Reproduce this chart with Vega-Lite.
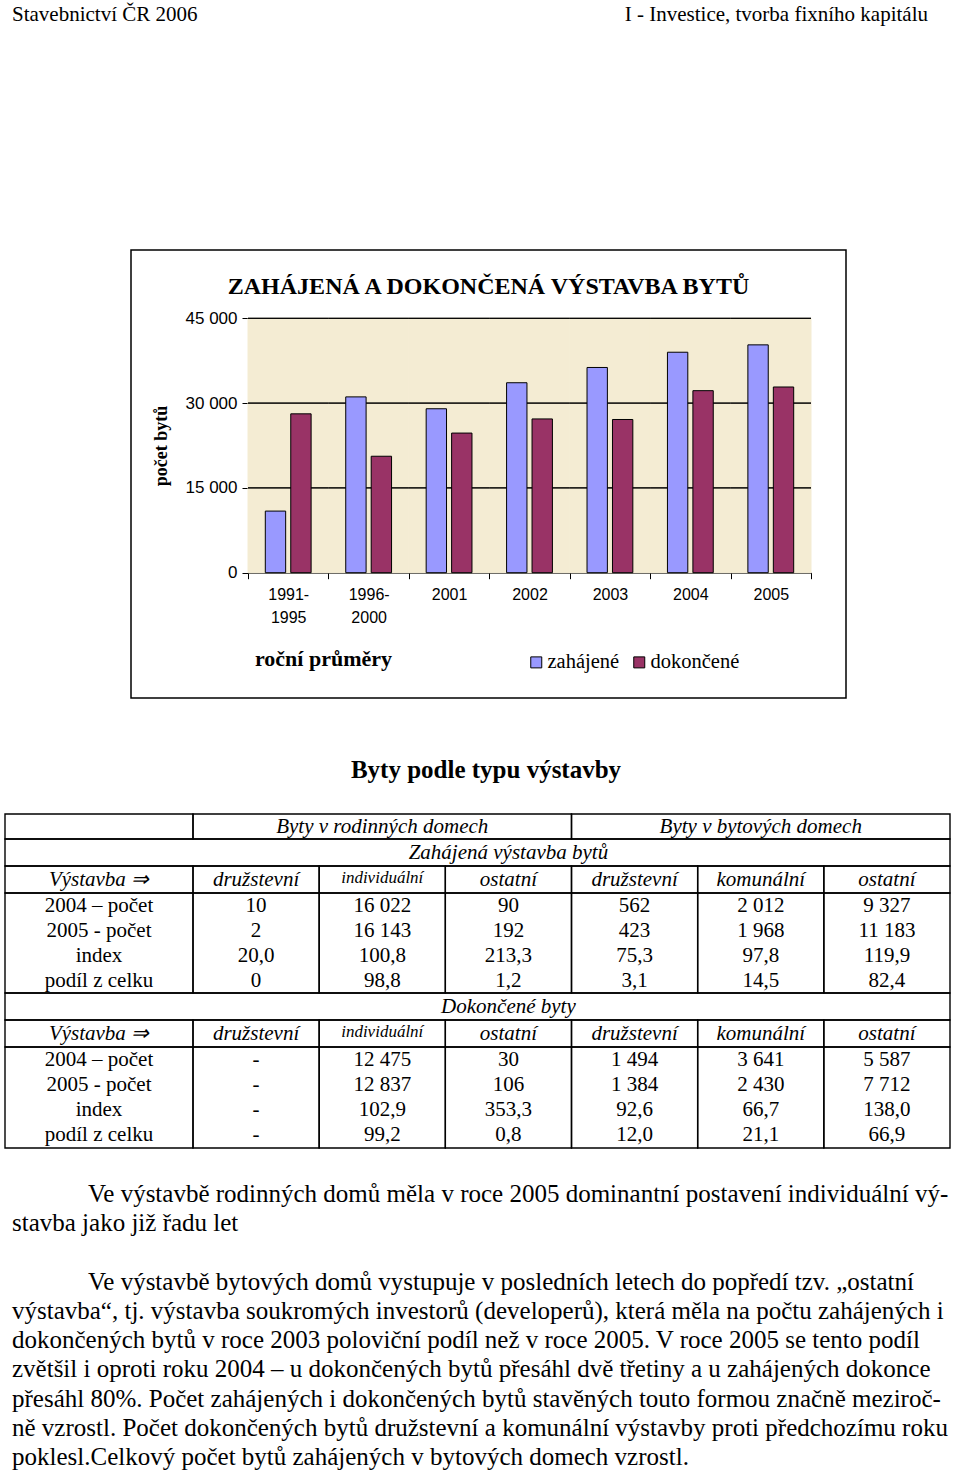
{
  "$schema": "https://vega.github.io/schema/vega-lite/v6.json",
  "background": "white",
  "padding": 0,
  "spacing": 0,
  "resolve": {"scale": {"color": "independent"}, "legend": {"color": "independent"}},
  "config": {
    "view": {"stroke": null},
    "font": "Liberation Serif",
    "axis": {"labelColor": "black", "titleColor": "black", "domainColor": "black", "tickColor": "black"},
    "legend": {"labelColor": "black"},
    "title": {"color": "black"}
  },
  "vconcat": [
    {
      "width": 960,
      "height": 249,
      "data": {"values": [
        {"part": "left", "text": "Stavebnictví  ČR 2006"},
        {"part": "right", "text": "I - Investice, tvorba fixního kapitálu"}
      ]},
      "encoding": {
        "x": {"field": "part", "type": "nominal", "scale": {"type": "point", "domain": ["left", "right"], "range": [12, 928], "padding": 0}, "axis": null},
        "y": {"field": "part", "type": "nominal", "scale": {"type": "point", "domain": ["left", "right"], "range": [15, 15], "padding": 0}, "axis": null},
        "text": {"field": "text"}
      },
      "layer": [
        {"transform": [{"filter": "datum.part === 'left'"}], "mark": {"type": "text", "align": "left", "baseline": "middle", "fontSize": 21, "font": "Liberation Serif", "color": "black"}},
        {"transform": [{"filter": "datum.part === 'right'"}], "mark": {"type": "text", "align": "right", "baseline": "middle", "fontSize": 21, "font": "Liberation Serif", "color": "black"}}
      ]
    },
    {
      "spacing": 0,
      "resolve": {"scale": {"color": "independent"}, "legend": {"color": "independent"}},
      "hconcat": [
        {"width": 130, "height": 477, "view": {"fill": "white", "stroke": null}, "data": {"values": []}, "mark": "point"},
        {
          "width": 715,
          "height": 448,
          "view": {"stroke": "black", "strokeWidth": 1.5},
          "title": {"text": "ZAHÁJENÁ A DOKONČENÁ VÝSTAVBA BYTŮ", "font": "Liberation Serif", "fontSize": 24, "fontWeight": "bold", "anchor": "middle", "frame": "group", "offset": -73, "baseline": "bottom", "color": "black"},
          "data": {"values": [
            {"obdobi": "1991-1995", "serie": "zahájené", "byty": 10900},
            {"obdobi": "1991-1995", "serie": "dokončené", "byty": 28100},
            {"obdobi": "1996-2000", "serie": "zahájené", "byty": 31100},
            {"obdobi": "1996-2000", "serie": "dokončené", "byty": 20600},
            {"obdobi": "2001", "serie": "zahájené", "byty": 29000},
            {"obdobi": "2001", "serie": "dokončené", "byty": 24700},
            {"obdobi": "2002", "serie": "zahájené", "byty": 33600},
            {"obdobi": "2002", "serie": "dokončené", "byty": 27200},
            {"obdobi": "2003", "serie": "zahájené", "byty": 36300},
            {"obdobi": "2003", "serie": "dokončené", "byty": 27100},
            {"obdobi": "2004", "serie": "zahájené", "byty": 39000},
            {"obdobi": "2004", "serie": "dokončené", "byty": 32200},
            {"obdobi": "2005", "serie": "zahájené", "byty": 40300},
            {"obdobi": "2005", "serie": "dokončené", "byty": 32850}
          ]},
          "encoding": {
            "x": {
              "field": "obdobi", "type": "nominal", "sort": null,
              "scale": {"type": "band", "domain": ["1991-1995", "1996-2000", "2001", "2002", "2003", "2004", "2005"], "range": [117, 680], "paddingInner": 0, "paddingOuter": 0},
              "axis": {
                "orient": "bottom", "offset": -125.3, "labelAngle": 0, "grid": false,
                "tickBand": "extent", "tickSize": 6, "domainWidth": 1,
                "labelExpr": "indexof(datum.label, '-') > 0 ? [slice(datum.label, 0, 5), slice(datum.label, 5)] : datum.label",
                "labelFont": "Liberation Sans", "labelFontSize": 16, "labelPadding": 8, "labelLineHeight": 23, "labelBaseline": "top",
                "title": "roční průměry", "titleFont": "Liberation Serif", "titleFontSize": 22, "titleFontWeight": "bold",
                "titleX": 192, "titleY": 86, "titleAlign": "center", "titleBaseline": "middle"
              }
            }
          },
          "layer": [
            {
              "transform": [{"filter": "datum.serie === 'zahájené'"}],
              "mark": {"type": "bar", "color": "#F4ECD3", "stroke": "#F4ECD3", "strokeWidth": 1},
              "encoding": {
                "y": {"datum": 45000, "type": "quantitative", "scale": {"domain": [0, 45000], "range": [322.7, 68.3], "nice": false, "zero": true}}
              }
            },
            {
              "transform": [{"filter": "datum.serie === 'zahájené'"}],
              "mark": {"type": "bar", "fillOpacity": 0, "stroke": "black", "strokeWidth": 1},
              "encoding": {"y": {"datum": 15000, "type": "quantitative"}, "y2": {"datum": 15000}}
            },
            {
              "transform": [{"filter": "datum.serie === 'zahájené'"}],
              "mark": {"type": "bar", "fillOpacity": 0, "stroke": "black", "strokeWidth": 1},
              "encoding": {"y": {"datum": 30000, "type": "quantitative"}, "y2": {"datum": 30000}}
            },
            {
              "transform": [{"filter": "datum.serie === 'zahájené'"}],
              "mark": {"type": "bar", "fillOpacity": 0, "stroke": "black", "strokeWidth": 1},
              "encoding": {"y": {"datum": 45000, "type": "quantitative"}, "y2": {"datum": 45000}}
            },
            {
              "mark": {"type": "bar", "stroke": "black", "strokeWidth": 1},
              "encoding": {
                "xOffset": {"field": "serie", "type": "nominal", "sort": null, "scale": {"domain": ["zahájené", "dokončené"], "paddingInner": 0.2, "paddingOuter": 0.68}},
                "y": {
                  "field": "byty", "type": "quantitative",
                  "scale": {"domain": [0, 45000], "range": [322.7, 68.3], "nice": false, "zero": true},
                  "axis": {
                    "orient": "left", "offset": -117, "values": [0, 15000, 30000, 45000],
                    "grid": false,
                    "tickSize": 6, "domainWidth": 1,
                    "labelExpr": "replace(format(datum.value, ','), ',', ' ')",
                    "labelFont": "Liberation Sans", "labelFontSize": 17, "labelPadding": 5,
                    "title": "počet bytů", "titleFont": "Liberation Serif", "titleFontSize": 18, "titleFontWeight": "bold",
                    "titleX": -87, "titleBaseline": "middle"
                  }
                },
                "color": {
                  "field": "serie", "type": "nominal", "sort": null,
                  "scale": {"domain": ["zahájené", "dokončené"], "range": ["#9999FF", "#993366"]},
                  "legend": {
                    "title": null, "orient": "none", "legendX": 395, "legendY": 402, "direction": "horizontal",
                    "symbolType": "square", "symbolSize": 121, "symbolStrokeColor": "black", "symbolStrokeWidth": 1, "symbolOpacity": 1,
                    "labelFont": "Liberation Serif", "labelFontSize": 20.5, "labelOffset": 1, "columnPadding": 9
                  }
                }
              }
            }
          ]
        }
      ]
    },
    {
      "width": 960,
      "height": 86,
      "data": {"values": [{"text": "Byty podle typu výstavby"}]},
      "mark": {"type": "text", "align": "center", "baseline": "middle", "dx": 6, "fontSize": 25, "fontWeight": "bold", "font": "Liberation Serif", "color": "black"},
      "encoding": {"text": {"field": "text"}}
    },
    {
      "width": 960,
      "height": 334,
      "layer": [
        {
          "data": {"values": [
            {"r0": 0, "r1": 1, "c0": 0, "c1": 1}, {"r0": 0, "r1": 1, "c0": 1, "c1": 4}, {"r0": 0, "r1": 1, "c0": 4, "c1": 7},
            {"r0": 1, "r1": 2, "c0": 0, "c1": 7},
            {"r0": 2, "r1": 3, "c0": 0, "c1": 1}, {"r0": 2, "r1": 3, "c0": 1, "c1": 2}, {"r0": 2, "r1": 3, "c0": 2, "c1": 3}, {"r0": 2, "r1": 3, "c0": 3, "c1": 4}, {"r0": 2, "r1": 3, "c0": 4, "c1": 5}, {"r0": 2, "r1": 3, "c0": 5, "c1": 6}, {"r0": 2, "r1": 3, "c0": 6, "c1": 7},
            {"r0": 3, "r1": 7, "c0": 0, "c1": 1}, {"r0": 3, "r1": 7, "c0": 1, "c1": 2}, {"r0": 3, "r1": 7, "c0": 2, "c1": 3}, {"r0": 3, "r1": 7, "c0": 3, "c1": 4}, {"r0": 3, "r1": 7, "c0": 4, "c1": 5}, {"r0": 3, "r1": 7, "c0": 5, "c1": 6}, {"r0": 3, "r1": 7, "c0": 6, "c1": 7},
            {"r0": 7, "r1": 8, "c0": 0, "c1": 7},
            {"r0": 8, "r1": 9, "c0": 0, "c1": 1}, {"r0": 8, "r1": 9, "c0": 1, "c1": 2}, {"r0": 8, "r1": 9, "c0": 2, "c1": 3}, {"r0": 8, "r1": 9, "c0": 3, "c1": 4}, {"r0": 8, "r1": 9, "c0": 4, "c1": 5}, {"r0": 8, "r1": 9, "c0": 5, "c1": 6}, {"r0": 8, "r1": 9, "c0": 6, "c1": 7},
            {"r0": 9, "r1": 13, "c0": 0, "c1": 1}, {"r0": 9, "r1": 13, "c0": 1, "c1": 2}, {"r0": 9, "r1": 13, "c0": 2, "c1": 3}, {"r0": 9, "r1": 13, "c0": 3, "c1": 4}, {"r0": 9, "r1": 13, "c0": 4, "c1": 5}, {"r0": 9, "r1": 13, "c0": 5, "c1": 6}, {"r0": 9, "r1": 13, "c0": 6, "c1": 7}
          ]},
          "mark": {"type": "rect", "filled": false, "color": "black", "strokeWidth": 1.4},
          "encoding": {
            "x": {"field": "c0", "type": "quantitative", "scale": {"domain": [0, 1, 7], "range": [5, 193, 950], "nice": false, "zero": false}, "axis": null},
            "x2": {"field": "c1"},
            "y": {"field": "r0", "type": "quantitative", "scale": {"domain": [0, 1, 2, 3, 7, 8, 9, 13], "range": [0, 25, 52, 79, 179, 206, 233, 334], "nice": false, "zero": false}, "axis": null},
            "y2": {"field": "r1"}
          }
        },
        {
          "data": {"values": [
            {"r": 0, "c0": 1, "c1": 4, "t": "Byty v rodinných domech", "k": "head"},
            {"r": 0, "c0": 4, "c1": 7, "t": "Byty v bytových domech", "k": "head"},
            {"r": 1, "c0": 0, "c1": 7, "t": "Zahájená výstavba bytů", "k": "head"},
            {"r": 2, "c0": 0, "c1": 1, "t": "Výstavba ⇒", "k": "head"},
            {"r": 2, "c0": 1, "c1": 2, "t": "družstevní", "k": "head"},
            {"r": 2, "c0": 2, "c1": 3, "t": "individuální", "k": "small"},
            {"r": 2, "c0": 3, "c1": 4, "t": "ostatní", "k": "head"},
            {"r": 2, "c0": 4, "c1": 5, "t": "družstevní", "k": "head"},
            {"r": 2, "c0": 5, "c1": 6, "t": "komunální", "k": "head"},
            {"r": 2, "c0": 6, "c1": 7, "t": "ostatní", "k": "head"},
            {"r": 3, "c0": 0, "c1": 1, "t": "2004 – počet", "k": "body"},
            {"r": 3, "c0": 1, "c1": 2, "t": "10", "k": "body"},
            {"r": 3, "c0": 2, "c1": 3, "t": "16 022", "k": "body"},
            {"r": 3, "c0": 3, "c1": 4, "t": "90", "k": "body"},
            {"r": 3, "c0": 4, "c1": 5, "t": "562", "k": "body"},
            {"r": 3, "c0": 5, "c1": 6, "t": "2 012", "k": "body"},
            {"r": 3, "c0": 6, "c1": 7, "t": "9 327", "k": "body"},
            {"r": 4, "c0": 0, "c1": 1, "t": "2005 - počet", "k": "body"},
            {"r": 4, "c0": 1, "c1": 2, "t": "2", "k": "body"},
            {"r": 4, "c0": 2, "c1": 3, "t": "16 143", "k": "body"},
            {"r": 4, "c0": 3, "c1": 4, "t": "192", "k": "body"},
            {"r": 4, "c0": 4, "c1": 5, "t": "423", "k": "body"},
            {"r": 4, "c0": 5, "c1": 6, "t": "1 968", "k": "body"},
            {"r": 4, "c0": 6, "c1": 7, "t": "11 183", "k": "body"},
            {"r": 5, "c0": 0, "c1": 1, "t": "index", "k": "body"},
            {"r": 5, "c0": 1, "c1": 2, "t": "20,0", "k": "body"},
            {"r": 5, "c0": 2, "c1": 3, "t": "100,8", "k": "body"},
            {"r": 5, "c0": 3, "c1": 4, "t": "213,3", "k": "body"},
            {"r": 5, "c0": 4, "c1": 5, "t": "75,3", "k": "body"},
            {"r": 5, "c0": 5, "c1": 6, "t": "97,8", "k": "body"},
            {"r": 5, "c0": 6, "c1": 7, "t": "119,9", "k": "body"},
            {"r": 6, "c0": 0, "c1": 1, "t": "podíl z celku", "k": "body"},
            {"r": 6, "c0": 1, "c1": 2, "t": "0", "k": "body"},
            {"r": 6, "c0": 2, "c1": 3, "t": "98,8", "k": "body"},
            {"r": 6, "c0": 3, "c1": 4, "t": "1,2", "k": "body"},
            {"r": 6, "c0": 4, "c1": 5, "t": "3,1", "k": "body"},
            {"r": 6, "c0": 5, "c1": 6, "t": "14,5", "k": "body"},
            {"r": 6, "c0": 6, "c1": 7, "t": "82,4", "k": "body"},
            {"r": 7, "c0": 0, "c1": 7, "t": "Dokončené byty", "k": "head"},
            {"r": 8, "c0": 0, "c1": 1, "t": "Výstavba ⇒", "k": "head"},
            {"r": 8, "c0": 1, "c1": 2, "t": "družstevní", "k": "head"},
            {"r": 8, "c0": 2, "c1": 3, "t": "individuální", "k": "small"},
            {"r": 8, "c0": 3, "c1": 4, "t": "ostatní", "k": "head"},
            {"r": 8, "c0": 4, "c1": 5, "t": "družstevní", "k": "head"},
            {"r": 8, "c0": 5, "c1": 6, "t": "komunální", "k": "head"},
            {"r": 8, "c0": 6, "c1": 7, "t": "ostatní", "k": "head"},
            {"r": 9, "c0": 0, "c1": 1, "t": "2004 – počet", "k": "body"},
            {"r": 9, "c0": 1, "c1": 2, "t": "-", "k": "body"},
            {"r": 9, "c0": 2, "c1": 3, "t": "12 475", "k": "body"},
            {"r": 9, "c0": 3, "c1": 4, "t": "30", "k": "body"},
            {"r": 9, "c0": 4, "c1": 5, "t": "1 494", "k": "body"},
            {"r": 9, "c0": 5, "c1": 6, "t": "3 641", "k": "body"},
            {"r": 9, "c0": 6, "c1": 7, "t": "5 587", "k": "body"},
            {"r": 10, "c0": 0, "c1": 1, "t": "2005 - počet", "k": "body"},
            {"r": 10, "c0": 1, "c1": 2, "t": "-", "k": "body"},
            {"r": 10, "c0": 2, "c1": 3, "t": "12 837", "k": "body"},
            {"r": 10, "c0": 3, "c1": 4, "t": "106", "k": "body"},
            {"r": 10, "c0": 4, "c1": 5, "t": "1 384", "k": "body"},
            {"r": 10, "c0": 5, "c1": 6, "t": "2 430", "k": "body"},
            {"r": 10, "c0": 6, "c1": 7, "t": "7 712", "k": "body"},
            {"r": 11, "c0": 0, "c1": 1, "t": "index", "k": "body"},
            {"r": 11, "c0": 1, "c1": 2, "t": "-", "k": "body"},
            {"r": 11, "c0": 2, "c1": 3, "t": "102,9", "k": "body"},
            {"r": 11, "c0": 3, "c1": 4, "t": "353,3", "k": "body"},
            {"r": 11, "c0": 4, "c1": 5, "t": "92,6", "k": "body"},
            {"r": 11, "c0": 5, "c1": 6, "t": "66,7", "k": "body"},
            {"r": 11, "c0": 6, "c1": 7, "t": "138,0", "k": "body"},
            {"r": 12, "c0": 0, "c1": 1, "t": "podíl z celku", "k": "body"},
            {"r": 12, "c0": 1, "c1": 2, "t": "-", "k": "body"},
            {"r": 12, "c0": 2, "c1": 3, "t": "99,2", "k": "body"},
            {"r": 12, "c0": 3, "c1": 4, "t": "0,8", "k": "body"},
            {"r": 12, "c0": 4, "c1": 5, "t": "12,0", "k": "body"},
            {"r": 12, "c0": 5, "c1": 6, "t": "21,1", "k": "body"},
            {"r": 12, "c0": 6, "c1": 7, "t": "66,9", "k": "body"}
          ]},
          "transform": [
            {"calculate": "(datum.c0 + datum.c1) / 2", "as": "cx"},
            {"calculate": "datum.r + 0.5", "as": "cy"}
          ],
          "encoding": {
            "x": {"field": "cx", "type": "quantitative", "axis": null},
            "y": {"field": "cy", "type": "quantitative", "axis": null},
            "text": {"field": "t"}
          },
          "layer": [
            {"transform": [{"filter": "datum.k === 'head'"}], "mark": {"type": "text", "align": "center", "baseline": "middle", "fontSize": 21, "fontStyle": "italic", "font": "Liberation Serif", "color": "black"}},
            {"transform": [{"filter": "datum.k === 'small'"}], "mark": {"type": "text", "align": "center", "baseline": "middle", "dy": -2, "fontSize": 17, "fontStyle": "italic", "font": "Liberation Serif", "color": "black"}},
            {"transform": [{"filter": "datum.k === 'body'"}], "mark": {"type": "text", "align": "center", "baseline": "middle", "fontSize": 21, "font": "Liberation Serif", "color": "black"}}
          ]
        }
      ]
    },
    {
      "width": 960,
      "height": 324,
      "data": {"values": [
        {"line": 0, "indent": "first", "text": "Ve výstavbě rodinných domů měla v roce 2005 dominantní postavení individuální vý-"},
        {"line": 1, "indent": "cont", "text": "stavba jako již řadu let"},
        {"line": 3, "indent": "first", "text": "Ve výstavbě bytových domů vystupuje v posledních letech do popředí tzv. „ostatní"},
        {"line": 4, "indent": "cont", "text": "výstavba“, tj. výstavba soukromých investorů (developerů), která měla na počtu zahájených i"},
        {"line": 5, "indent": "cont", "text": "dokončených bytů v roce 2003 poloviční podíl než v roce 2005. V roce 2005 se tento podíl"},
        {"line": 6, "indent": "cont", "text": "zvětšil i oproti roku 2004 – u dokončených bytů přesáhl dvě třetiny a u zahájených dokonce"},
        {"line": 7, "indent": "cont", "text": "přesáhl 80%. Počet zahájených i dokončených bytů stavěných touto formou značně meziroč-"},
        {"line": 8, "indent": "cont", "text": "ně vzrostl. Počet dokončených bytů družstevní a komunální výstavby proti předchozímu roku"},
        {"line": 9, "indent": "cont", "text": "poklesl.Celkový počet bytů zahájených v bytových domech vzrostl."}
      ]},
      "mark": {"type": "text", "align": "left", "baseline": "middle", "fontSize": 25, "font": "Liberation Serif", "color": "black"},
      "encoding": {
        "x": {"field": "indent", "type": "nominal", "scale": {"type": "point", "domain": ["cont", "first"], "range": [12, 88], "padding": 0}, "axis": null},
        "y": {"field": "line", "type": "quantitative", "scale": {"domain": [0, 9], "range": [45, 308], "nice": false, "zero": false}, "axis": null},
        "text": {"field": "text"}
      }
    }
  ]
}
